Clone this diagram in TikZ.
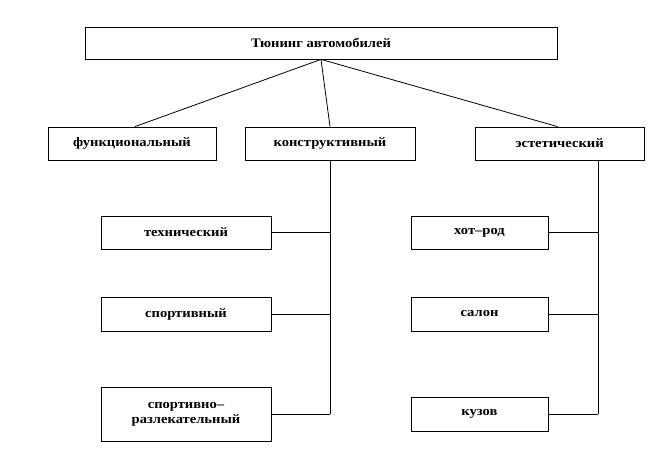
\documentclass[tikz,border=0pt]{standalone}
\usepackage{fontspec}
\setmainfont{Liberation Serif}
\newfontfamily\boxfont[FakeStretch=1.12]{Liberation Serif}
\tikzset{
  box/.style={draw=black, line width=0.8pt, rectangle, inner sep=0pt, align=center,
    font=\boxfont\fontsize{13}{15}\selectfont\bfseries},
  link/.style={draw=black, line width=0.8pt}
}
\newcommand{\boxat}[6]{% name, x1, y1, x2, y2, text
  \node[box, minimum width={#4-#2}, minimum height={#5-#3}] (#1) at ({(#2+#4)/2},{(#3+#5)/2}) {#6};}
\begin{document}
\begin{tikzpicture}[x=1pt, y=-1pt]
\useasboundingbox (0,0) rectangle (657,457);
\boxat{top}{85}{27}{557}{59}{Тюнинг автомобилей}
\boxat{func}{48}{127}{216}{160}{функциональный}
\boxat{konst}{245}{127}{415}{160}{конструктивный}
\boxat{est}{475}{127}{644}{160}{эстетический}
\boxat{tech}{101}{216}{271}{249}{технический}
\boxat{sport}{101}{297}{271}{331}{спортивный}
\boxat{sr}{101}{387}{271}{441}{спортивно–\\разлекательный}
\boxat{hot}{411}{216}{548}{249}{хот–род}
\boxat{salon}{411}{297}{548}{331}{салон}
\boxat{kuz}{411}{397}{548}{431}{кузов}
\coordinate (estv) at (598,160);
\draw[link] (top.south) -- ([xshift=3pt]func.north);
\draw[link] (top.south) -- (konst.north);
\draw[link] (top.south) -- ([xshift=-2pt]est.north);
\draw[link] (konst.south) -- (konst.south |- sr.east);
\draw[link] (tech.east) -- (tech.east -| konst.south);
\draw[link] (sport.east) -- (sport.east -| konst.south);
\draw[link] (sr.east) -- (sr.east -| konst.south);
\draw[link] (estv) -- (estv |- kuz.east);
\draw[link] (hot.east) -- (hot.east -| estv);
\draw[link] (salon.east) -- (salon.east -| estv);
\draw[link] (kuz.east) -- (kuz.east -| estv);
\end{tikzpicture}
\end{document}
